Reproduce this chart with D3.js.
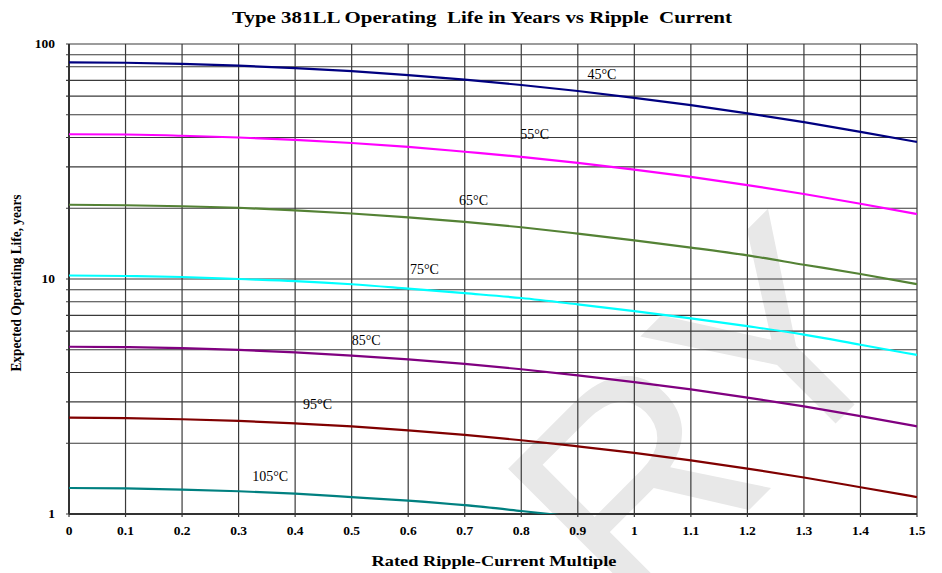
<!DOCTYPE html>
<html><head><meta charset="utf-8">
<script src="https://cdn.jsdelivr.net/npm/d3@7"></script>
<style>body{margin:0;background:#fff}svg{display:block}</style>
</head><body><svg id="c" width="942" height="573"></svg>
<script>
// ---- data ----
const ripple = [0, 0.1, 0.2, 0.3, 0.4, 0.5, 0.6, 0.7, 0.8, 0.9, 1.0, 1.1, 1.2, 1.3, 1.4, 1.5];
const temps = ["45°C", "55°C", "65°C", "75°C", "85°C", "95°C", "105°C"];
const life45 = [83.5, 83.2, 82.3, 80.9, 79.0, 76.6, 73.7, 70.5, 66.9, 63.1, 59.0, 54.9, 50.7, 46.5, 42.3, 38.3];
const life55 = [41.3, 41.2, 40.7, 40.0, 39.1, 37.9, 36.5, 34.8, 33.1, 31.2, 29.2, 27.2, 25.1, 23.0, 20.9, 18.9];
const life65 = [20.7, 20.6, 20.4, 20.1, 19.6, 19.0, 18.3, 17.5, 16.6, 15.6, 14.6, 13.6, 12.6, 11.5, 10.5, 9.5];
const life75 = [10.35, 10.3, 10.2, 10.0, 9.8, 9.5, 9.1, 8.7, 8.3, 7.8, 7.3, 6.8, 6.3, 5.8, 5.25, 4.75];
const life85 = [5.15, 5.13, 5.08, 4.99, 4.87, 4.72, 4.55, 4.35, 4.13, 3.89, 3.64, 3.39, 3.13, 2.87, 2.61, 2.36];
const life95 = [2.57, 2.56, 2.53, 2.49, 2.43, 2.36, 2.27, 2.17, 2.06, 1.94, 1.82, 1.69, 1.56, 1.43, 1.30, 1.18];
const life105 = [1.29, 1.285, 1.27, 1.25, 1.22, 1.18, 1.14, 1.09, 1.03, 0.97];
const xTickValues = [0, 0.1, 0.2, 0.3, 0.4, 0.5, 0.6, 0.7, 0.8, 0.9, 1, 1.1, 1.2, 1.3, 1.4, 1.5];
const yTickValues = [1, 10, 100];
const yGridValues = [1, 2, 3, 4, 5, 6, 7, 8, 9, 10, 20, 30, 40, 50, 60, 70, 80, 90, 100];
const labelRipple = [0.917, 0.798, 0.69, 0.603, 0.5, 0.414, 0.324];
const labelLife = [71.0, 39.4, 20.6, 10.5, 5.24, 2.80, 1.38];
const colors = ["#000080", "#ff00ff", "#548235", "#00ffff", "#800080", "#800000", "#008080"];

const series = [life45, life55, life65, life75, life85, life95, life105];

// ---- layout ----
const W = 942, H = 573;
const m = {left: 69, right: 25, top: 44, bottom: 59};
const svg = d3.select("#c");
const x = d3.scaleLinear().domain([0, 1.5]).range([m.left, W - m.right]);
const y = d3.scaleLog().domain([1, 100]).range([H - m.bottom, m.top]);
const serif = "'Liberation Serif','Times New Roman',serif";

// watermark (behind grid)
const wm = svg.append("g").attr("transform", "translate(845,414) rotate(-45)");
wm.append("text").attr("x", 97).attr("y", 0).attr("text-anchor", "end")
  .attr("font-family", "'Liberation Sans',Arial,sans-serif").attr("font-size", 290)
  .attr("fill", "#e8e8e8").text("RY");

svg.append("defs").append("clipPath").attr("id", "plot")
  .append("rect").attr("x", m.left).attr("y", m.top)
  .attr("width", W - m.left - m.right).attr("height", H - m.top - m.bottom);

// grid
const grid = svg.append("g");
grid.selectAll("line.h").data(yGridValues).join("line").attr("class", "h")
  .attr("x1", m.left - 3).attr("x2", W - m.right)
  .attr("y1", d => y(d)).attr("y2", d => y(d))
  .attr("stroke", "#3a3a3a").attr("stroke-width", 1.2);
grid.selectAll("line.v").data(xTickValues).join("line").attr("class", "v")
  .attr("x1", d => x(d)).attr("x2", d => x(d))
  .attr("y1", m.top).attr("y2", H - m.bottom + 3)
  .attr("stroke", "#3a3a3a").attr("stroke-width", 1.2);

// axes lines
svg.append("line").attr("x1", m.left).attr("x2", m.left).attr("y1", m.top).attr("y2", H - m.bottom)
  .attr("stroke", "#333").attr("stroke-width", 2);
svg.append("line").attr("x1", m.left).attr("x2", W - m.right).attr("y1", H - m.bottom).attr("y2", H - m.bottom)
  .attr("stroke", "#333").attr("stroke-width", 2);

// curves
const line = d3.line().x(d => x(d[0])).y(d => y(d[1])).curve(d3.curveMonotoneX);
const curves = svg.append("g").attr("clip-path", "url(#plot)");
series.forEach((vals, i) => {
  const pts = vals.map((v, j) => [ripple[j], v]);
  curves.append("path").attr("d", line(pts)).attr("fill", "none")
    .attr("stroke", colors[i]).attr("stroke-width", 2.2);
});

// curve labels
temps.forEach((t, i) => {
  svg.append("text").attr("x", x(labelRipple[i])).attr("y", y(labelLife[i]))
    .attr("font-family", serif).attr("font-size", 14).attr("fill", "#000").text(t);
});

// tick labels
svg.append("g").selectAll("text").data(xTickValues).join("text")
  .attr("x", d => x(d)).attr("y", 535).attr("text-anchor", "middle")
  .attr("font-family", serif).attr("font-weight", "bold").attr("font-size", 13.5)
  .text(d => d3.format("~g")(d));
svg.append("g").selectAll("text").data(yTickValues).join("text")
  .attr("x", 55).attr("y", d => y(d)).attr("dy", "0.33em").attr("text-anchor", "end")
  .attr("font-family", serif).attr("font-weight", "bold").attr("font-size", 13.5)
  .text(d => d);

// titles
svg.append("text").attr("x", 482).attr("y", 23).attr("text-anchor", "middle")
  .attr("font-family", serif).attr("font-weight", "bold").attr("font-size", 17)
  .attr("textLength", 500).attr("lengthAdjust", "spacingAndGlyphs")
  .text("Type 381LL Operating  Life in Years vs Ripple  Current").style("white-space", "pre");
svg.append("text").attr("x", 494).attr("y", 566).attr("text-anchor", "middle")
  .attr("font-family", serif).attr("font-weight", "bold").attr("font-size", 15)
  .attr("textLength", 245).attr("lengthAdjust", "spacingAndGlyphs")
  .text("Rated Ripple-Current Multiple");
svg.append("text").attr("transform", "translate(21,283) rotate(-90)").attr("text-anchor", "middle")
  .attr("font-family", serif).attr("font-weight", "bold").attr("font-size", 14)
  .attr("textLength", 177).attr("lengthAdjust", "spacingAndGlyphs")
  .text("Expected Operating Life, years");
</script></body></html>
